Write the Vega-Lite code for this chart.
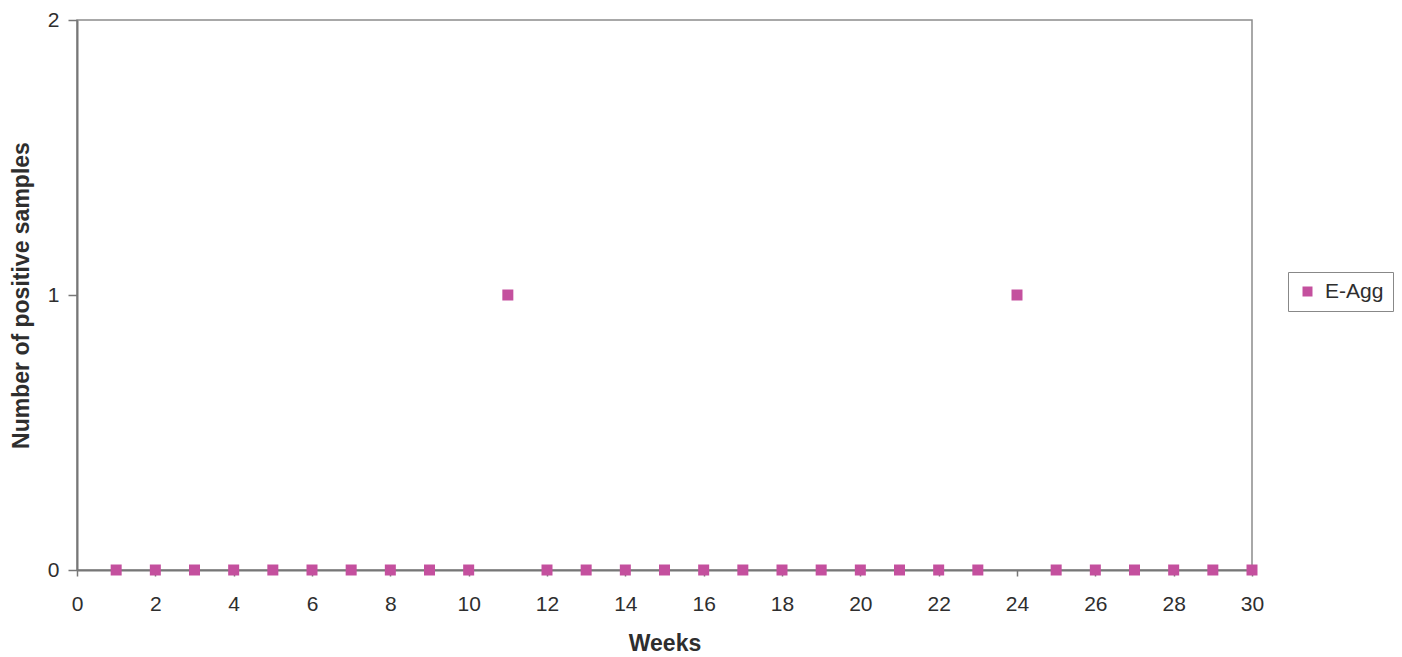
{
  "$schema": "https://vega.github.io/schema/vega-lite/v6.json",
  "width": 1175,
  "height": 550,
  "autosize": {"type": "none"},
  "padding": {"left": 77, "top": 20, "right": 150, "bottom": 87},
  "background": "white",
  "config": {
    "view": {"stroke": "#8c8c8c", "strokeWidth": 1.5},
    "font": "Liberation Sans",
    "axis": {
      "grid": false,
      "domainColor": "#777777",
      "domainWidth": 2,
      "tickColor": "#777777",
      "tickWidth": 1.5,
      "labelFont": "Liberation Sans",
      "labelFontSize": 21,
      "labelColor": "#2e2e2e",
      "titleFont": "Liberation Sans",
      "titleFontSize": 23,
      "titleFontWeight": "bold",
      "titleColor": "#2e2e2e"
    }
  },
  "data": {
    "values": [
      {"week": 1, "count": 0, "series": "E-Agg"},
      {"week": 2, "count": 0, "series": "E-Agg"},
      {"week": 3, "count": 0, "series": "E-Agg"},
      {"week": 4, "count": 0, "series": "E-Agg"},
      {"week": 5, "count": 0, "series": "E-Agg"},
      {"week": 6, "count": 0, "series": "E-Agg"},
      {"week": 7, "count": 0, "series": "E-Agg"},
      {"week": 8, "count": 0, "series": "E-Agg"},
      {"week": 9, "count": 0, "series": "E-Agg"},
      {"week": 10, "count": 0, "series": "E-Agg"},
      {"week": 11, "count": 1, "series": "E-Agg"},
      {"week": 12, "count": 0, "series": "E-Agg"},
      {"week": 13, "count": 0, "series": "E-Agg"},
      {"week": 14, "count": 0, "series": "E-Agg"},
      {"week": 15, "count": 0, "series": "E-Agg"},
      {"week": 16, "count": 0, "series": "E-Agg"},
      {"week": 17, "count": 0, "series": "E-Agg"},
      {"week": 18, "count": 0, "series": "E-Agg"},
      {"week": 19, "count": 0, "series": "E-Agg"},
      {"week": 20, "count": 0, "series": "E-Agg"},
      {"week": 21, "count": 0, "series": "E-Agg"},
      {"week": 22, "count": 0, "series": "E-Agg"},
      {"week": 23, "count": 0, "series": "E-Agg"},
      {"week": 24, "count": 1, "series": "E-Agg"},
      {"week": 25, "count": 0, "series": "E-Agg"},
      {"week": 26, "count": 0, "series": "E-Agg"},
      {"week": 27, "count": 0, "series": "E-Agg"},
      {"week": 28, "count": 0, "series": "E-Agg"},
      {"week": 29, "count": 0, "series": "E-Agg"},
      {"week": 30, "count": 0, "series": "E-Agg"}
    ]
  },
  "mark": {"type": "point", "shape": "square", "filled": true, "size": 121, "opacity": 1},
  "encoding": {
    "x": {
      "field": "week",
      "type": "quantitative",
      "scale": {"domain": [0, 30], "nice": false, "zero": false},
      "axis": {
        "title": "Weeks",
        "values": [0, 2, 4, 6, 8, 10, 12, 14, 16, 18, 20, 22, 24, 26, 28, 30],
        "tickSize": 6,
        "labelPadding": 17,
        "labelFlush": false,
        "titleBaseline": "middle",
        "titleY": 73
      }
    },
    "y": {
      "field": "count",
      "type": "quantitative",
      "scale": {"domain": [0, 2], "nice": false},
      "axis": {
        "title": "Number of positive samples",
        "tickCount": 2,
        "labelOverlap": false,
        "labelFlush": false,
        "tickSize": 9,
        "labelPadding": 9,
        "titleBaseline": "middle",
        "titleX": -56
      }
    },
    "color": {
      "field": "series",
      "type": "nominal",
      "scale": {"range": ["#C4509E"]},
      "legend": {
        "title": null,
        "orient": "none",
        "legendX": 1211,
        "legendY": 252,
        "strokeColor": "#888888",
        "padding": 9,
        "symbolType": "square",
        "symbolSize": 100,
        "symbolOpacity": 1,
        "labelOffset": 7,
        "labelFontSize": 21,
        "labelColor": "#2e2e2e",
        "labelFont": "Liberation Sans"
      }
    }
  }
}
